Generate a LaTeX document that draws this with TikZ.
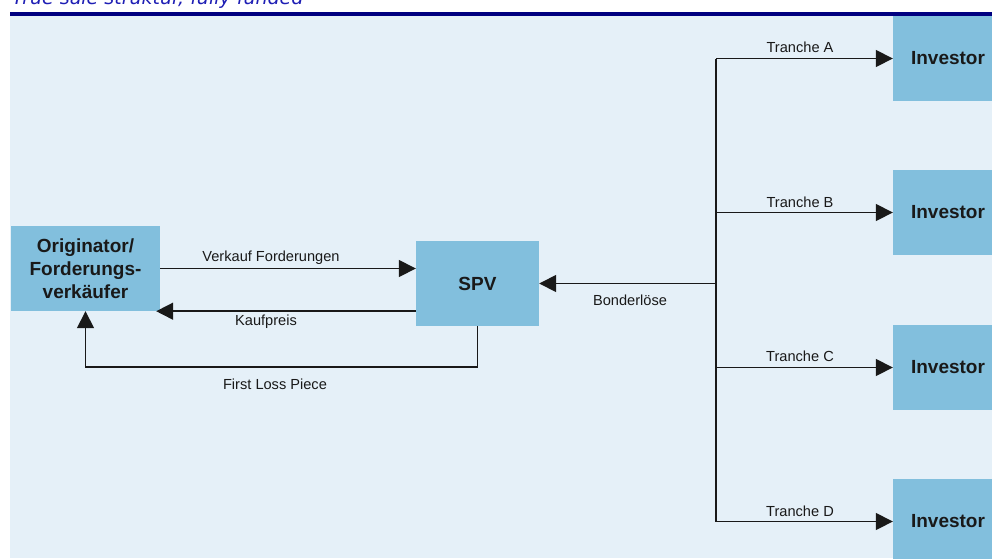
\documentclass[tikz,border=0pt]{standalone}
\usepackage{fontspec}
\setmainfont{Liberation Sans}
\newfontfamily\headfont{DejaVu Sans}
\usetikzlibrary{arrows.meta}
\definecolor{navy}{RGB}{0,0,128}
\definecolor{panel}{RGB}{229,240,248}
\definecolor{boxfill}{RGB}{130,191,221}
\definecolor{titleblue}{RGB}{30,30,180}
\definecolor{ink}{RGB}{25,25,25}
\tikzset{
  entity/.style={fill=boxfill, draw=none, minimum width=#1, minimum height=85pt,
    inner sep=0pt, font=\fontsize{19}{23}\selectfont\bfseries, text=ink, align=center},
  entity/.default=110pt,
  flow/.style={draw=ink, line width=1.6pt, -{Triangle[length=17pt,width=17pt]}},
  plain/.style={draw=ink, line width=1.6pt},
  lbl/.style={font=\fontsize{14.6}{17}\selectfont, text=ink, inner sep=0pt}
}
\begin{document}
\begin{tikzpicture}[x=1pt,y=-1pt]
  \useasboundingbox (0,0) rectangle (992,558);
  \begin{scope}
    \clip (0,0) rectangle (992,558);
    % heading and rule
    \node[anchor=base west, inner sep=0pt, text=titleblue,
      font=\headfont\fontsize{19}{22}\selectfont\itshape] (title) at (12,4) {True sale struktur, fully funded};
    \fill[navy] (10,12) rectangle (992,16);
    \fill[panel] (10,16) rectangle (992,558);

    % parties
    \node[entity=149pt] (orig) at (85.5,268.5) {Originator/\\Forderungs-\\verkäufer};
    \node[entity=123pt] (spv) at (477.5,283.5) {SPV};
    \node[entity] (inv1) at (948,58.5) {Investor};
    \node[entity] (inv2) at (948,212.5) {Investor};
    \node[entity] (inv3) at (948,367.5) {Investor};
    \node[entity] (inv4) at (948,521.5) {Investor};

    % sale of receivables and purchase price
    \draw[flow] (orig.east) -- (orig.east -| spv.west);
    \node[lbl] (lverk) at (271,258) {Verkauf Forderungen};
    \draw[flow] (spv.west |- orig.south east) -- ([xshift=-4pt]orig.south east);
    \node[lbl] (lkauf) at (266,322) {Kaufpreis};

    % first loss piece back to the originator
    \coordinate (fl) at (85.5,367);
    \draw[flow] (spv.south) |- (fl) -- (orig.south);
    \node[lbl] (lfl) at (275,384) {First Loss Piece};

    % bond proceeds and tranches
    \coordinate (j) at (716,283.5);
    \draw[flow] (j) -- (spv.east);
    \node[lbl] (lbond) at (630,300) {Bonderlöse};
    \draw[plain] (j |- inv1.west) -- (j |- inv4.west);
    \draw[flow] (j |- inv1.west) -- (inv1.west);
    \draw[flow] (j |- inv2.west) -- (inv2.west);
    \draw[flow] (j |- inv3.west) -- (inv3.west);
    \draw[flow] (j |- inv4.west) -- (inv4.west);
    \node[lbl] (ta) at (800,47) {Tranche A};
    \node[lbl] (tb) at (800,202) {Tranche B};
    \node[lbl] (tc) at (800,356) {Tranche C};
    \node[lbl] (td) at (800,511) {Tranche D};
  \end{scope}
\end{tikzpicture}
\end{document}
